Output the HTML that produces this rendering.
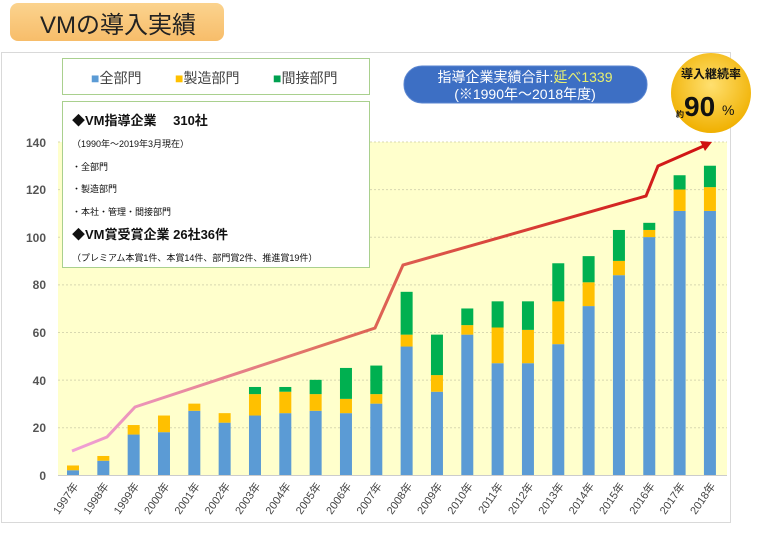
<!DOCTYPE html>
<html><head><meta charset="utf-8"><style>
body{margin:0;width:764px;height:545px;background:#fff;position:relative;overflow:hidden;font-family:"Liberation Sans","Noto Sans CJK JP",sans-serif}
.a{position:absolute}
</style></head><body>
<div class="a" style="left:10px;top:3px;width:214px;height:38px;border-radius:8px;background:linear-gradient(#fbd38e,#f7bd6a);"></div>
<div class="a" style="left:40px;top:5px;font-size:24px;color:#222;">VMの導入実績</div>
<div class="a" style="left:1px;top:52px;width:728px;height:469px;border:1px solid #d9d9d9;"></div>
<svg class="a" style="left:0;top:0" width="764" height="545">
<defs><linearGradient id="lg" x1="0" x2="1"><stop offset="0" stop-color="#f0a0d8"/><stop offset="0.4" stop-color="#e07060"/><stop offset="1" stop-color="#d01010"/></linearGradient>
<radialGradient id="cg" cx="0.5" cy="0.4" r="0.6"><stop offset="0" stop-color="#ffe070"/><stop offset="1" stop-color="#f0b000"/></radialGradient></defs>
<rect x="58" y="142" width="669" height="333" fill="#ffffcc"/>
<g stroke="#d8d8b0" stroke-dasharray="2,2" stroke-width="1">
<line x1="58" x2="727" y1="142" y2="142"/><line x1="58" x2="727" y1="189.6" y2="189.6"/><line x1="58" x2="727" y1="237.2" y2="237.2"/><line x1="58" x2="727" y1="284.9" y2="284.9"/><line x1="58" x2="727" y1="332.5" y2="332.5"/><line x1="58" x2="727" y1="380.1" y2="380.1"/><line x1="58" x2="727" y1="427.7" y2="427.7"/></g>
<line x1="58" x2="727" y1="475.5" y2="475.5" stroke="#ccc"/>
<g font-size="12" fill="#555" text-anchor="end" font-weight="bold">
<text x="46" y="147">140</text><text x="46" y="194">120</text><text x="46" y="242">100</text><text x="46" y="289">80</text><text x="46" y="337">60</text><text x="46" y="385">40</text><text x="46" y="432">20</text><text x="46" y="480">0</text></g>
<g id="bars"></g>
<polyline points="72,451 107,437 135,407 375,328 403,265 646,196 658,166 706,145" fill="none" stroke="url(#lg)" stroke-width="3"/>
<polygon points="712,142 700,141 705,151" fill="#d01010"/>
<g id="xl" font-size="11" fill="#444"></g>
<rect x="404" y="66" width="243" height="37" rx="18" fill="#3d6fc4" stroke="#5a85d0"/>
<text x="525" y="82" text-anchor="middle" font-size="14" fill="#fff">指導企業実績合計:<tspan fill="#e8f070">延べ1339</tspan></text>
<text x="525" y="99" text-anchor="middle" font-size="14" fill="#fff">(※1990年～2018年度)</text>
<circle cx="711" cy="93" r="40" fill="url(#cg)"/>
<text x="711" y="78" text-anchor="middle" font-size="12" font-weight="bold" fill="#111">導入継続率</text>
<text x="676" y="117" font-size="8" font-weight="bold" fill="#111">約</text>
<text x="684" y="116" font-size="28" font-weight="bold" fill="#111">90</text>
<text x="722" y="115" font-size="14" fill="#111">%</text>
</svg>
<div class="a" style="left:62px;top:58px;width:306px;height:35px;border:1px solid #a9d08e;background:#fff;font-size:14px;color:#444;">
<span class="a" style="left:28px;top:9px"><span style="color:#5b9bd5">■</span>全部門</span>
<span class="a" style="left:112px;top:9px"><span style="color:#ffc000">■</span>製造部門</span>
<span class="a" style="left:210px;top:9px"><span style="color:#00a050">■</span>間接部門</span></div>
<div class="a" style="left:62px;top:101px;width:306px;height:165px;border:1px solid #a9d08e;background:#fff;color:#111;">
<div class="a" style="left:9px;top:8px;font-size:13px;font-weight:bold">◆VM指導企業　 310社</div>
<div class="a" style="left:9px;top:35px;font-size:9px">（1990年～2019年3月現在）</div>
<div class="a" style="left:9px;top:58px;font-size:9px">・全部門</div>
<div class="a" style="left:9px;top:80px;font-size:9px">・製造部門</div>
<div class="a" style="left:9px;top:103px;font-size:9px">・本社・管理・間接部門</div>
<div class="a" style="left:9px;top:122px;font-size:13px;font-weight:bold">◆VM賞受賞企業 26社36件</div>
<div class="a" style="left:9px;top:149px;font-size:9px">（プレミアム本賞1件、本賞14件、部門賞2件、推進賞19件）</div>
</div>
<script>
var d=[[2,4,4],[6,8,8],[17,21,21],[18,25,25],[27,30,30],[22,26,26],[25,34,37],[26,35,37],[27,34,40],[26,32,45],[30,34,46],[54,59,77],[35,42,59],[59,63,70],[47,62,73],[47,61,73],[55,73,89],[71,81,92],[84,90,103],[100,103,106],[111,120,126],[111,121,130]];
var g=document.getElementById('bars'),xl=document.getElementById('xl'),s="",t="";
function Y(v){return 475-v*2.379}
d.forEach(function(b,i){var cx=73+i*30.33,x=cx-6;
s+='<rect x="'+x+'" y="'+Y(b[0])+'" width="12" height="'+(b[0]*2.379)+'" fill="#5b9bd5"/>';
s+='<rect x="'+x+'" y="'+Y(b[1])+'" width="12" height="'+((b[1]-b[0])*2.379)+'" fill="#ffc000"/>';
s+='<rect x="'+x+'" y="'+Y(b[2])+'" width="12" height="'+((b[2]-b[1])*2.379)+'" fill="#00b050"/>';
t+='<text transform="translate('+(cx+6)+',486) rotate(-55)" text-anchor="end">'+(1997+i)+'年</text>';});
g.innerHTML=s;xl.innerHTML=t;
</script>
</body></html>
